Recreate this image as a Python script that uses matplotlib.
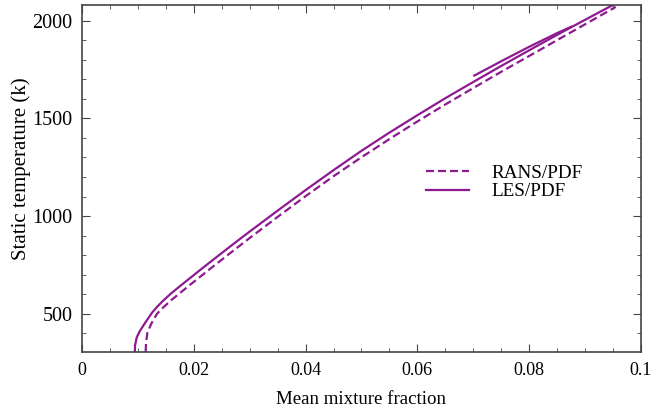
import matplotlib
matplotlib.use("Agg")
import matplotlib.pyplot as plt
from matplotlib.ticker import MultipleLocator

plt.rcParams['font.family'] = ['Liberation Serif', 'DejaVu Serif']

# RANS/PDF (dashed)
rans_z = [0.0114, 0.01145, 0.0117, 0.0124, 0.0134, 0.0145, 0.016, 0.019, 0.0229, 0.0267, 0.030,
          0.035, 0.040, 0.045, 0.050, 0.055, 0.060, 0.065, 0.070, 0.075, 0.080, 0.085, 0.090, 0.0955]
rans_t = [305, 350, 403, 450, 500, 532, 571, 641, 730, 815, 888,
          996, 1102, 1204, 1301, 1394, 1484, 1571, 1655, 1738, 1819, 1900, 1981, 2070]

# LES/PDF (solid), main branch
les_z = [0.00946, 0.0095, 0.0098, 0.0103, 0.0112, 0.0125, 0.0135, 0.0145, 0.016, 0.0178, 0.0216,
         0.0258, 0.0288, 0.030, 0.035, 0.040, 0.045, 0.050, 0.055, 0.060, 0.065, 0.070, 0.075,
         0.080, 0.085, 0.090, 0.095]
les_t = [305, 340, 380, 410, 450, 505, 538, 567, 606, 648, 735,
         829, 895, 921, 1028, 1133, 1235, 1334, 1427, 1516, 1603, 1686, 1768,
         1848, 1927, 2004, 2080]

# LES/PDF, short upper branch
les2_z = [0.0702, 0.075, 0.080, 0.085, 0.0875]
les2_t = [1719, 1792, 1866, 1936, 1968]

color = '#8e1a92'

fig = plt.figure(figsize=(6.59, 4.12), dpi=100)
ax = fig.add_axes([0.1244, 0.1456, 0.8482, 0.8424])

ax.plot(rans_z, rans_t, color=color, lw=1.6, ls=(0, (3.6, 1.8)), label='RANS/PDF')
ax.plot(les_z, les_t, color=color, lw=1.6, label='LES/PDF')
ax.plot(les2_z, les2_t, color=color, lw=1.6)

ax.set_xlim(0, 0.1)
ax.set_ylim(305, 2080)
ax.set_xticks([0, 0.02, 0.04, 0.06, 0.08, 0.1])
ax.set_xticklabels(['0', '0.02', '0.04', '0.06', '0.08', '0.1'])
ax.xaxis.set_minor_locator(MultipleLocator(0.005))
ax.yaxis.set_major_locator(MultipleLocator(500))
ax.yaxis.set_minor_locator(MultipleLocator(100))
ax.tick_params(which='both', direction='in', top=True, right=True, pad=7, color='#444444')
ax.tick_params(axis='x', labelsize=13)
ax.tick_params(axis='y', labelsize=14.5)
ax.tick_params(which='major', length=6)
ax.tick_params(which='minor', length=3)
for s in ax.spines.values():
    s.set_linewidth(1.2)
    s.set_color('#444444')

ax.set_xlabel('Mean mixture fraction', fontsize=13.6, labelpad=9)
ax.set_ylabel('Static temperature (k)', fontsize=15)
ax.yaxis.set_label_coords(-0.091, 0.527)

ax.legend(loc='upper left', bbox_to_anchor=(0.584, 0.59), frameon=False, fontsize=13.8,
          handlelength=2.25, handletextpad=1.2, labelspacing=0.05)

fig.savefig('out.png', dpi=100)
